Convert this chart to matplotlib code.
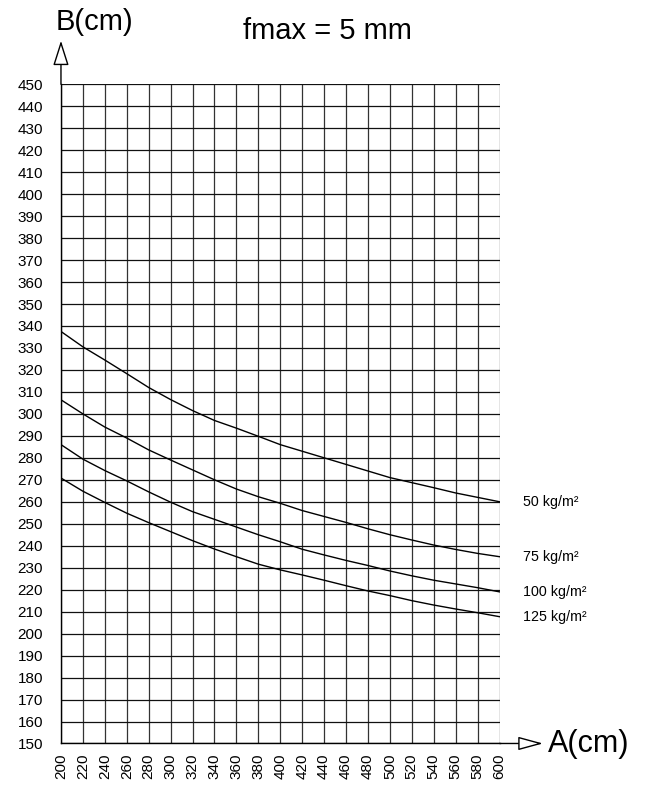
import numpy as np
import matplotlib
matplotlib.use('Agg')
import matplotlib.pyplot as plt

plt.rcParams['font.family'] = ['Liberation Sans', 'DejaVu Sans']

# Data
a_values = [200, 220, 240, 260, 280, 300, 320, 340, 360, 380, 400,
            420, 440, 460, 480, 500, 520, 540, 560, 580, 600]
b_50 = [337.5, 330.5, 324.5, 318.3, 312.0, 306.5, 301.5, 297.0, 293.5, 289.8, 286.0,
        283.0, 280.0, 277.0, 274.0, 271.0, 268.7, 266.4, 264.0, 262.0, 260.0]
b_75 = [306.4, 300.0, 294.0, 289.0, 283.6, 279.0, 274.5, 270.0, 265.8, 262.3, 259.3,
        256.0, 253.3, 250.6, 247.7, 245.0, 242.6, 240.3, 238.3, 236.5, 235.0]
b_100 = [286.0, 279.4, 274.2, 269.5, 264.5, 259.8, 255.5, 252.0, 248.5, 245.0, 241.8,
         238.4, 235.8, 233.3, 231.0, 228.5, 226.3, 224.3, 222.6, 220.9, 219.0]
b_125 = [270.8, 264.8, 259.7, 254.8, 250.5, 246.4, 242.3, 238.5, 235.0, 231.6, 229.0,
         226.7, 224.3, 221.8, 219.4, 217.3, 215.0, 213.0, 211.2, 209.5, 207.7]
curve_labels = ['50 kg/m²', '75 kg/m²', '100 kg/m²', '125 kg/m²']

x_ticks = list(range(200, 601, 20))
y_ticks = list(range(150, 451, 10))

fig = plt.figure(figsize=(6.5, 7.89), dpi=100)
ax = fig.add_axes([0.0938, 0.0577, 0.6747, 0.8355])

# grid
for x in x_ticks:
    ax.axvline(x, color='#333333', lw=0.9, zorder=1)
for y in y_ticks:
    ax.axhline(y, color='#111111', lw=0.9, zorder=1)

# curves
for b, lab in zip([b_50, b_75, b_100, b_125], curve_labels):
    ax.plot(a_values, b, color='black', lw=1.0, zorder=2)
    ax.text(a_values[-1] + 21, b[-1], lab, fontsize=10.3, va='center', ha='left',
            clip_on=False)

ax.set_xlim(200, 600)
ax.set_ylim(150, 450)
ax.set_xticks(x_ticks)
ax.set_yticks(y_ticks)
ax.set_xticklabels([str(v) for v in x_ticks], rotation=90, fontsize=11)
ax.set_yticklabels([str(v) for v in y_ticks], fontsize=11)
ax.tick_params(length=0)
ax.tick_params(axis='y', pad=13)
ax.tick_params(axis='x', pad=7)
for s in ['top', 'right']:
    ax.spines[s].set_visible(False)
for s in ['left', 'bottom']:
    ax.spines[s].set_linewidth(1.0)

# axis arrows
ax.annotate('', xy=(0, 1.066), xytext=(0, 1.0), xycoords='axes fraction',
            arrowprops=dict(arrowstyle='-|>,head_length=1.1,head_width=0.35',
                            fc='white', ec='black', lw=1.0, mutation_scale=14,
                            shrinkA=0, shrinkB=0))
ax.annotate('', xy=(1.099, 0), xytext=(1.0, 0), xycoords='axes fraction',
            arrowprops=dict(arrowstyle='-|>,head_length=1.1,head_width=0.3',
                            fc='white', ec='black', lw=1.0, mutation_scale=14,
                            shrinkA=0, shrinkB=0))

fig.text(94 / 650, 1 - 22 / 789, 'B(cm)', fontsize=21, ha='center', va='center')
fig.text(548 / 650, 1 - 744 / 789, 'A(cm)', fontsize=22, ha='left', va='center')
fig.text(327 / 650, 1 - 31 / 789, 'fmax = 5 mm', fontsize=21, ha='center', va='center')

fig.savefig('out.png', dpi=100)
